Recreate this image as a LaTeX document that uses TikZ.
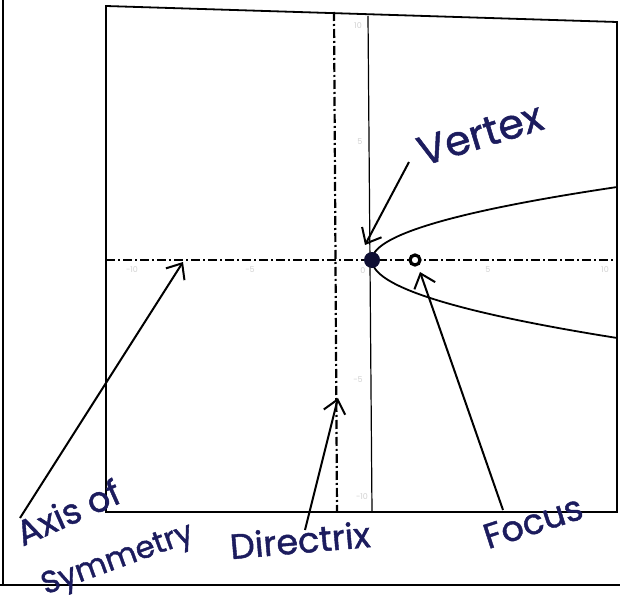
\documentclass[tikz,border=0pt]{standalone}
\usepackage{fontspec}
\setmainfont{Poppins}
\newfontfamily\handfont{Poppins}[FakeBold=1.2]
\usetikzlibrary{arrows.meta}
\definecolor{ink}{HTML}{1C1C5E}
\begin{document}
\begin{tikzpicture}[x=1pt,y=-1pt,
  frame/.style={line width=1.8pt},
  axisline/.style={line width=2.2pt, dash pattern=on 9pt off 3pt on 2pt off 3pt},
  hand/.style={ink, font=\handfont\fontsize{35}{35}\selectfont, inner sep=0pt},
  pointer/.style={line width=2pt, -{Straight Barb[length=13pt,width=22pt,line width=2pt]}},
  tick/.style={gray!35, font=\fontsize{8}{8}\selectfont, inner sep=0pt}]
\useasboundingbox (0,0) rectangle (620,604);
\fill[white] (0,0) rectangle (620,604);
% outer page lines
\draw[line width=1.5pt] (3,0) -- (3,585);
\draw[line width=1.5pt] (0,585) -- (620,585);
% plot frame
\draw[frame] (106,6) -- (617,22) -- (617,512) -- (106,512) -- cycle;
% axes
\draw[axisline] (106,260) -- (617,260);
\draw[line width=1.2pt] (368,16) -- (372,512);
\draw[axisline] (334,12) -- (337,512);
% parabola
\draw[line width=1.8pt] plot[domain=0:73, samples=60, smooth] ({372+0.046*\x*\x},{260-\x});
\draw[line width=1.8pt] plot[domain=0:78, samples=60, smooth] ({372+0.0403*\x*\x},{260+\x});
% points
\node[circle, fill=ink!55!black, minimum size=16pt, inner sep=0pt] (vtx) at (372,260) {};
\node[circle, draw, line width=3.2pt, fill=white, minimum size=10pt, inner sep=0pt] (foc) at (415,260) {};
% tick labels
\node[tick] (t0) at (363,271) {0};
\node[tick] (t5) at (488,270) {5};
\node[tick] (t10) at (605,270) {10};
\node[tick] (tm5) at (250,270) {-5};
\node[tick] (tm10) at (132,270) {-10};
\node[tick] (ty10) at (358,26) {10};
\node[tick] (ty5) at (360,142) {5};
\node[tick] (tym5) at (358,380) {-5};
\node[tick] (tym10) at (362,497) {-10};
% labels
\node[hand, font=\handfont\fontsize{41}{41}\selectfont, rotate=17] (lvertex) at (480,134) {Vertex};
\node[hand, rotate=24] (laxis) at (68,512) {Axis of};
\node[hand, font=\handfont\fontsize{31}{31}\selectfont, rotate=20] (lsym) at (118,561) {Symmetry};
\node[hand, rotate=5] (ldir) at (300,540) {Directrix};
\node[hand, rotate=18] (lfoc) at (533,522) {Focus};
% pointers
\coordinate (vtail) at (409,162);
\coordinate (vtip) at (365,245);
\coordinate (atail) at (20,518);
\coordinate (atip) at (183,262);
\coordinate (dtail) at (305,530);
\coordinate (dtip) at (338,398);
\coordinate (ftail) at (503,510);
\coordinate (ftip) at (420,272);
\draw[pointer] (vtail) -- (vtip);
\draw[pointer] (atail) -- (atip);
\draw[pointer] (dtail) -- (dtip);
\draw[pointer] (ftail) -- (ftip);
\end{tikzpicture}
\end{document}
